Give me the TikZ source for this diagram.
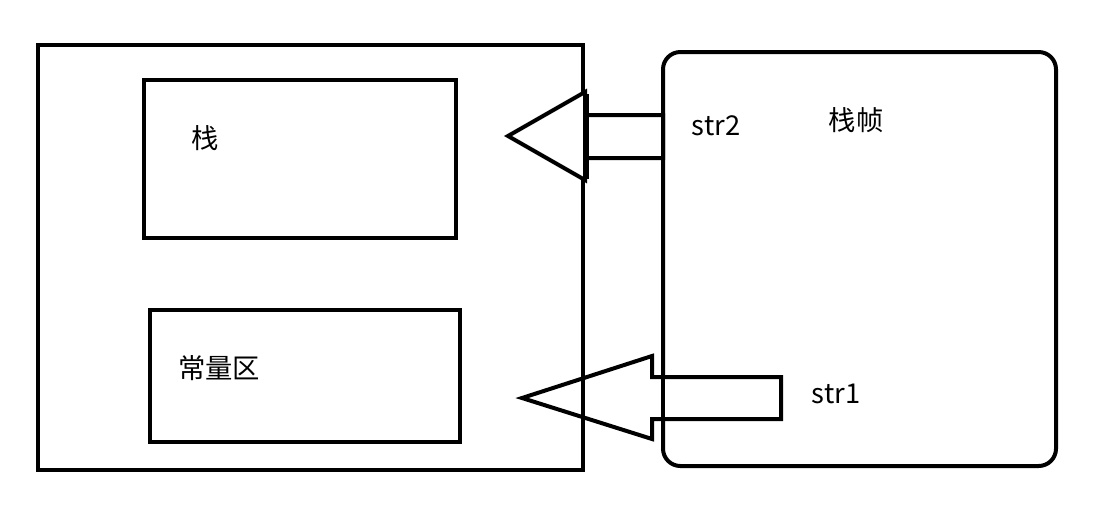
\documentclass[tikz,border=0pt]{standalone}
\usepackage{fontspec}
\setmainfont{Noto Sans CJK SC}
\begin{document}
\begin{tikzpicture}[x=0.75pt,y=-0.75pt,
  box/.style={draw=black,line width=3pt,inner sep=0pt,outer sep=0pt},
  lbl/.style={font=\fontsize{20.5}{24}\selectfont,inner sep=0pt},
  blockarrow/.style={draw=black,line width=3pt,line join=miter,fill=white}]
\useasboundingbox (0,0) rectangle (1119,515);
% outer memory box
\node[box,minimum width=408.75pt,minimum height=318.75pt] (outer) at (310.5,257.5) {};
% stack box
\node[box,minimum width=234pt,minimum height=118.5pt] (stack) at (300,159) {};
% constant pool box
\node[box,minimum width=232.5pt,minimum height=99pt] (const) at (305,376) {};
% right rounded box (stack frame)
\node[box,rounded corners=13pt,minimum width=294.75pt,minimum height=310.5pt] (frame) at (859.5,259) {};
% bottom arrow (str1)
\draw[blockarrow] (522,398) -- (652,356) -- (652,377) -- (781,377) -- (781,419) -- (652,419) -- (652,439) -- cycle;
\draw[box] (frame.west |- 0,360) -- (frame.west |- 0,440);
\draw[box] (outer.east |- 0,360) -- (outer.east |- 0,440);
% top arrow (str2)
\draw[blockarrow] (508,136) -- (585,92) -- (585,115) -- (663,115) -- (663,158) -- (585,158) -- (585,180) -- cycle;
\draw[line width=4.5pt] (586,94) -- (586,179);
% labels
\node[lbl] (zhan) at (205,138) {栈};
\node[lbl] (changliang) at (219,368) {常量区};
\node[lbl] (str2) at (716,126) {str2};
\node[lbl] (zhanzhen) at (856,120) {栈帧};
\node[lbl] (str1) at (836,394) {str1};
\end{tikzpicture}
\end{document}
